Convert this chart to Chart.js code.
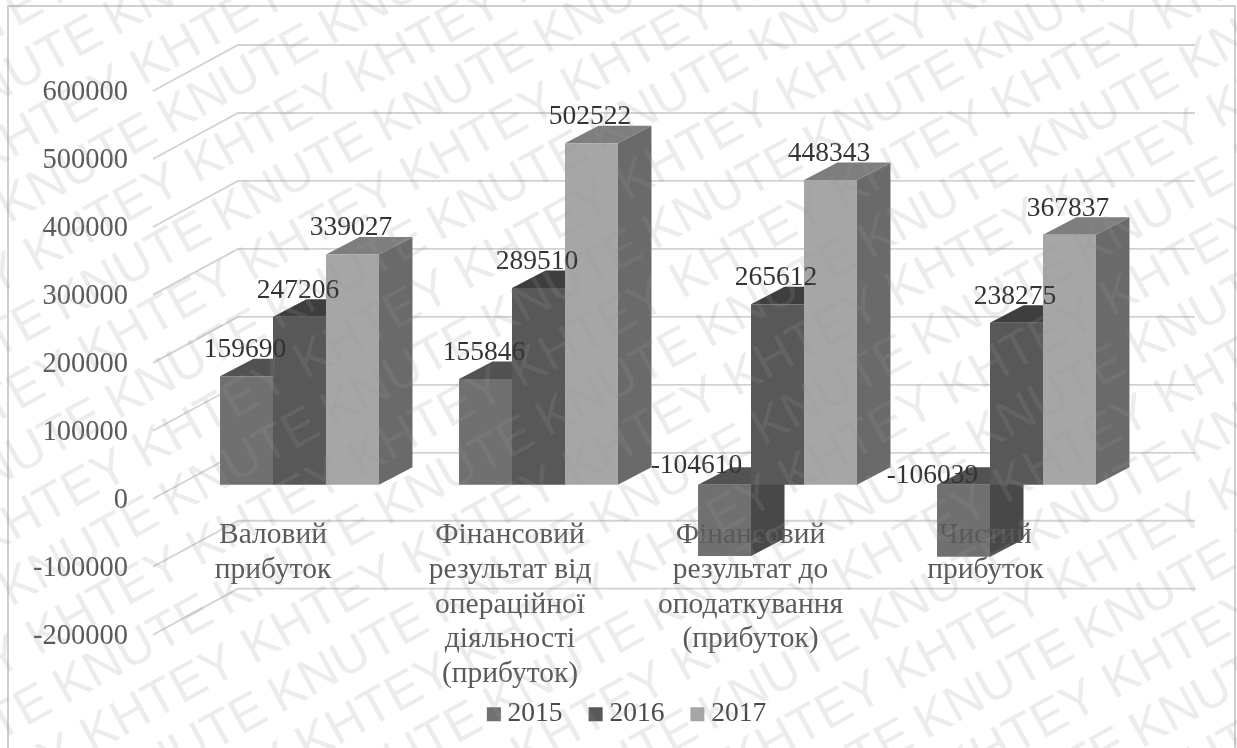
<!DOCTYPE html>
<html lang="uk">
<head>
<meta charset="utf-8">
<title>Фінансові результати</title>
<style>
  html, body { margin: 0; padding: 0; background: #fff; }
  #wrap { width: 1237px; height: 748px; overflow: hidden; }
</style>
<script src="https://cdn.jsdelivr.net/npm/chart.js@4"></script>
</head>
<body>
<div id="wrap"><canvas id="chart" width="1237" height="748"></canvas></div>
<script>
// Series
const years = ['2015', '2016', '2017'];
const values2015 = [159690, 155846, -104610, -106039];
const values2016 = [247206, 289510, 265612, 238275];
const values2017 = [339027, 502522, 448343, 367837];

// Categories and axis ticks
const categories = [
  ['Валовий', 'прибуток'],
  ['Фінансовий', 'результат від', 'операційної', 'діяльності', '(прибуток)'],
  ['Фінансовий', 'результат до', 'оподаткування', '(прибуток)'],
  ['Чистий', 'прибуток']
];
const valueTicks = [600000, 500000, 400000, 300000, 200000, 100000, 0, -100000, -200000];

// Per-face colours of each series
const frontColors = ['#707070', '#585858', '#a6a6a6'];
const topColors = ['#525252', '#3e3e3e', '#7e7e7e'];
const sideColors = ['#484848', '#454545', '#6a6a6a'];

// Oblique projection
const BAR_DEPTH = { x: 33.5, y: 17.5 };
const WALL = { backX: 58, backY: -32, frontX: -27, frontY: 14, rightX: 59 };
const LABEL_SHIFT = 22800;                 // value-axis labels sit on the front plane
const NEGATIVE_LABEL_OFFSET = { 2: { x: -28, y: -19 }, 3: { x: -31, y: -9 } };
const CATEGORY_NUDGE = [-0.111, -0.119, -0.113, -0.130];
const Y_MIN = -268830;
const Y_MAX = 700000;

// Watermark lattice
const WATERMARK_WORDS = ['KNUTE', 'KHTEY'];
const WATERMARK = { angle: 29, rowGap: 56, wordGap: 184, originX: 393, originY: 123 };

const SERIF = '"Liberation Serif", "Times New Roman", serif';

function polygon(ctx, points, color) {
  ctx.beginPath();
  points.forEach(([x, y], i) => (i ? ctx.lineTo(x, y) : ctx.moveTo(x, y)));
  ctx.closePath();
  ctx.fillStyle = color;
  ctx.fill();
}

// Tick-label overhang must not eat into the fixed plot box
function dropOverhang(axis) {
  axis.paddingLeft = axis.paddingRight = axis.paddingTop = axis.paddingBottom = 0;
}

// Page frame and back-wall grid, behind everything else
const wallPlugin = {
  id: 'wall',
  beforeDraw(chart) {
    const { ctx, width, height, chartArea, scales } = chart;
    ctx.save();
    ctx.fillStyle = '#fff';
    ctx.fillRect(0, 0, width, height);
    ctx.strokeStyle = '#cfcfcf';
    ctx.lineWidth = 2;
    ctx.strokeRect(8, 6, 1227, height + 20);
    ctx.lineWidth = 1.8;
    ctx.strokeStyle = '#d2d2d2';
    valueTicks.forEach(v => {
      const y = scales.y.getPixelForValue(v);
      ctx.beginPath();
      ctx.moveTo(chartArea.left + WALL.frontX, y + WALL.frontY);
      ctx.lineTo(chartArea.left + WALL.backX, y + WALL.backY);
      ctx.lineTo(chartArea.right + WALL.rightX, y + WALL.backY);
      ctx.stroke();
    });
    ctx.restore();
  }
};

// Top and side faces of each bar, placed behind the front faces
const depthPlugin = {
  id: 'depth',
  beforeDatasetsDraw(chart) {
    const { ctx } = chart;
    const { x: dx, y: dy } = BAR_DEPTH;
    ctx.save();
    chart.data.datasets.forEach((ds, d) => {
      chart.getDatasetMeta(d).data.forEach(bar => {
        const l = bar.x - bar.width / 2;
        const r = bar.x + bar.width / 2;
        const t = Math.min(bar.y, bar.base);
        const b = Math.max(bar.y, bar.base);
        polygon(ctx, [[r, t], [r + dx, t - dy], [r + dx, b - dy], [r, b]], sideColors[d]);
        polygon(ctx, [[l, t], [r, t], [r + dx, t - dy], [l + dx, t - dy]], topColors[d]);
      });
    });
    ctx.restore();
  }
};

// Value labels above the bars
const valueLabelPlugin = {
  id: 'valueLabels',
  afterDatasetsDraw(chart) {
    const { ctx, scales } = chart;
    ctx.save();
    ctx.font = '27.5px ' + SERIF;
    ctx.textAlign = 'center';
    ctx.textBaseline = 'middle';
    ctx.fillStyle = '#333';
    chart.data.datasets.forEach((ds, d) => {
      chart.getDatasetMeta(d).data.forEach((bar, i) => {
        const v = ds.data[i];
        if (v < 0) {
          const off = NEGATIVE_LABEL_OFFSET[i];
          ctx.fillText(String(v), bar.x + off.x, scales.y.getPixelForValue(0) + off.y);
        } else {
          ctx.fillText(String(v), bar.x - 1.5, bar.y - 26.5);
        }
      });
    });
    ctx.restore();
  }
};

// Diagonal watermark laid over the whole page: rows of one word, alternating
const watermarkPlugin = {
  id: 'watermark',
  afterDraw(chart) {
    const { ctx } = chart;
    const { angle, rowGap, wordGap, originX, originY } = WATERMARK;
    ctx.save();
    ctx.font = '51px "Liberation Sans", Arial, sans-serif';
    ctx.textBaseline = 'middle';
    ctx.fillStyle = 'rgba(153,153,153,0.186)';
    ctx.translate(originX, originY);
    ctx.rotate(-angle * Math.PI / 180);
    for (let row = -14; row <= 20; row++) {
      const word = WATERMARK_WORDS[Math.abs(row) % 2];
      for (let col = -8; col <= 10; col++) {
        ctx.fillText(word, col * wordGap - 17, row * rowGap);
      }
    }
    ctx.restore();
  }
};

new Chart(document.getElementById('chart'), {
  type: 'bar',
  data: {
    labels: categories.map(c => c.join(' ')),
    datasets: [
      { label: years[0], data: values2015, backgroundColor: frontColors[0] },
      { label: years[1], data: values2016, backgroundColor: frontColors[1] },
      { label: years[2], data: values2017, backgroundColor: frontColors[2] }
    ]
  },
  plugins: [wallPlugin, depthPlugin, valueLabelPlugin, watermarkPlugin],
  options: {
    responsive: false,
    animation: false,
    layout: { padding: { left: 23, right: 0, top: 9.05, bottom: 10 } },
    datasets: { bar: { categoryPercentage: 0.665, barPercentage: 1, borderWidth: 0 } },
    scales: {
      x: { display: false },
      // Scale the bars stand on; kept on the right to hold the plot's right margin
      y: {
        position: 'right',
        min: Y_MIN,
        max: Y_MAX,
        afterBuildTicks: axis => { axis.ticks = valueTicks.map(value => ({ value })); },
        ticks: { display: false },
        grid: { display: false },
        border: { display: false },
        afterFit: axis => { axis.width = 101; dropOverhang(axis); }
      },
      // Value labels, shown on the front plane of the box
      yLabels: {
        axis: 'y',
        position: 'left',
        min: Y_MIN + LABEL_SHIFT,
        max: Y_MAX + LABEL_SHIFT,
        afterBuildTicks: axis => { axis.ticks = valueTicks.map(value => ({ value })); },
        afterFit: axis => { axis.width = 157; dropOverhang(axis); },
        grid: { display: false, drawTicks: false },
        border: { display: false },
        ticks: {
          autoSkip: false,
          padding: 52,
          color: '#5a5a5a',
          font: { family: SERIF, size: 28.5 },
          callback: value => String(value)
        }
      },
      // Category captions hung under the zero line, over the negative bars
      xLabels: {
        axis: 'x',
        type: 'linear',
        offset: false,
        position: { y: 0 },
        min: -0.5,
        max: 3.5,
        afterBuildTicks: axis => {
          axis.ticks = categories.map((_, i) => ({ value: i + CATEGORY_NUDGE[i] }));
        },
        afterFit: axis => { axis.height = 0; dropOverhang(axis); },
        grid: { display: false, drawTicks: false, offset: false },
        border: { display: false },
        ticks: {
          z: 1,
          autoSkip: false,
          maxRotation: 0,
          minRotation: 0,
          padding: 33,
          color: '#5a5a5a',
          font: { family: SERIF, size: 29.5, lineHeight: 1.18 },
          callback: (value, index) => categories[index]
        }
      }
    },
    plugins: {
      tooltip: { enabled: false },
      legend: {
        position: 'bottom',
        labels: {
          usePointStyle: true,
          pointStyle: 'rect',
          boxWidth: 0.01,
          boxHeight: 14,
          padding: 33,
          color: '#4a4a4a',
          font: { family: SERIF, size: 27.5 }
        }
      }
    }
  }
});
</script>
</body>
</html>
